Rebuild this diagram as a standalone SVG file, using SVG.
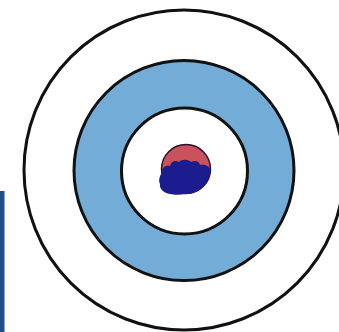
<svg xmlns="http://www.w3.org/2000/svg" width="339" height="332" viewBox="0 0 339 332">
<style>
.ring{stroke:#111;stroke-width:3}
</style>
<rect width="339" height="332" fill="#fff"/>
<g id="target">
<circle class="ring" cx="184" cy="170" r="160" fill="#fff"/>
<circle class="ring" cx="184" cy="170.5" r="110" fill="#74acd8"/>
<circle class="ring" cx="184.5" cy="171" r="63" fill="#fff"/>
</g>
<g id="bullseye">
<circle cx="186" cy="169" r="24.5" fill="#c9525c" stroke="#2a1030" stroke-width="1.5"/>
<path d="M162,172 C162,167 166,165 170,166 C171,161 176,160 179,162 C182,159 188,159 191,162 C195,160 199,161 200,165 C204,164 209,165 210.5,170 C210,183 200,194 186,194 C180,195 174,195 170,194 C164,193 159,189 160,184 C158,180 160,176 162,172 Z" fill="#1c1c8e"/>
</g>
<rect id="sidebar" x="0" y="191" width="4.5" height="141" fill="#1f4d8a"/>
</svg>
